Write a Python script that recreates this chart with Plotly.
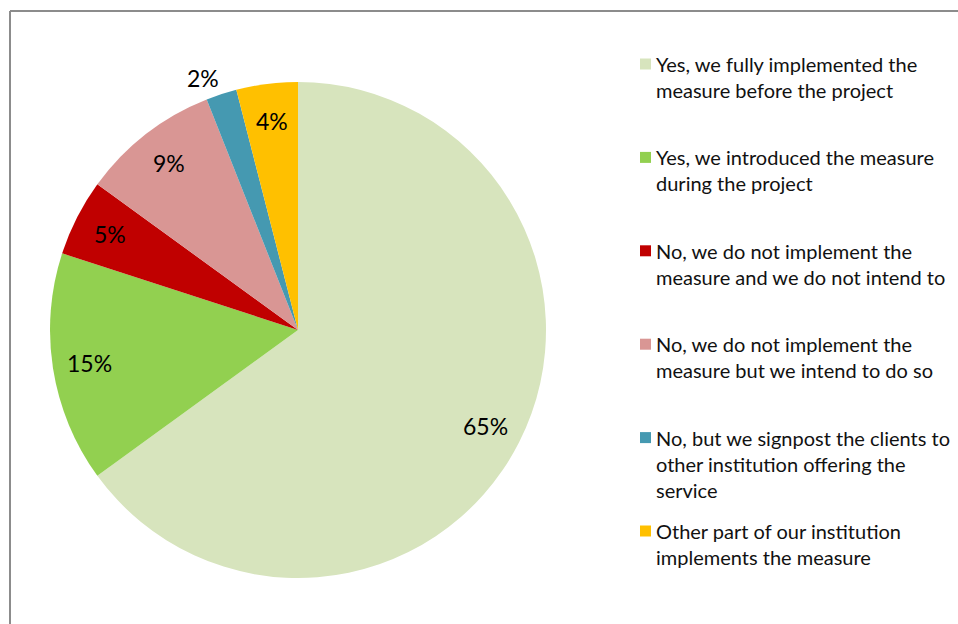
import numpy as np
import plotly.graph_objects as go

W, H = 958, 624

categories = [
    "Yes, we fully implemented the<br>measure before the project",
    "Yes, we introduced the measure<br>during the project",
    "No, we do not implement the<br>measure and we do not intend to",
    "No, we do not implement the<br>measure but we intend to do so",
    "No, but we signpost the clients to<br>other institution offering the<br>service",
    "Other part of our institution<br>implements the measure",
]
shares = [65, 15, 5, 9, 2, 4]
colors = ["#D7E4BD", "#92D050", "#C00000", "#D99694", "#4599B1", "#FFC000"]

FONT = "Lato"
TEXT = "#111111"

# pie geometry in pixels
cx, cy, R = 298, 330, 248

fig = go.Figure(
    go.Pie(
        labels=[c.replace("<br>", " ") for c in categories],
        values=shares,
        marker=dict(colors=colors, line=dict(width=0)),
        sort=False,
        direction="clockwise",
        rotation=0,
        textinfo="none",
        showlegend=False,
        domain=dict(
            x=[(cx - R) / W, (cx + R) / W],
            y=[(H - cy - R) / H, (H - cy + R) / H],
        ),
    )
)

annotations = []

# percentage labels placed at each slice's mid-angle
vals = np.array(shares, dtype=float)
frac = vals / vals.sum()
mids = np.cumsum(frac) - frac / 2
for v, m in zip(shares, mids):
    theta = 2 * np.pi * m
    outside = v < 3
    r = R * (1.0 if outside else 0.85)
    px = cx + r * np.sin(theta)
    py = cy - r * np.cos(theta)
    ann = dict(
        x=px / W, y=1 - py / H, xref="paper", yref="paper",
        text=f"{v}%", showarrow=False,
        font=dict(family=FONT, size=23, color="#000000"),
    )
    if outside:
        ann.update(xanchor="right" if np.sin(theta) < 0 else "left", yanchor="bottom")
    else:
        ann.update(xanchor="center", yanchor="middle")
    annotations.append(ann)

# legend: colour squares with wrapped labels
shapes = []
leg_x, leg_y0, leg_step, line_h, sq = 640, 64, 93.4, 26, 11
for i, (cat, col) in enumerate(zip(categories, colors)):
    y = leg_y0 + i * leg_step
    shapes.append(dict(
        type="rect", xref="paper", yref="paper",
        x0=leg_x / W, x1=(leg_x + sq) / W,
        y0=1 - (y + sq / 2) / H, y1=1 - (y - sq / 2) / H,
        fillcolor=col, line=dict(width=0),
    ))
    for j, line in enumerate(cat.split("<br>")):
        annotations.append(dict(
            x=(leg_x + 14) / W, y=1 - (y + j * line_h) / H,
            xref="paper", yref="paper", xanchor="left", yanchor="middle",
            text=line, showarrow=False,
            font=dict(family=FONT, size=20, color=TEXT),
        ))

# chart frame (top and left edges visible)
frame = dict(color="#8c8c8c", width=2)
shapes.append(dict(type="line", xref="paper", yref="paper",
                   x0=10 / W, x1=1.01, y0=1 - 11 / H, y1=1 - 11 / H, line=frame))
shapes.append(dict(type="line", xref="paper", yref="paper",
                   x0=10 / W, x1=10 / W, y0=1 - 11 / H, y1=-0.01, line=frame))

fig.update_layout(
    width=W, height=H,
    margin=dict(l=0, r=0, t=0, b=0),
    paper_bgcolor="white", plot_bgcolor="white",
    annotations=annotations, shapes=shapes,
    font=dict(family=FONT),
)

fig.write_html("out.html")
